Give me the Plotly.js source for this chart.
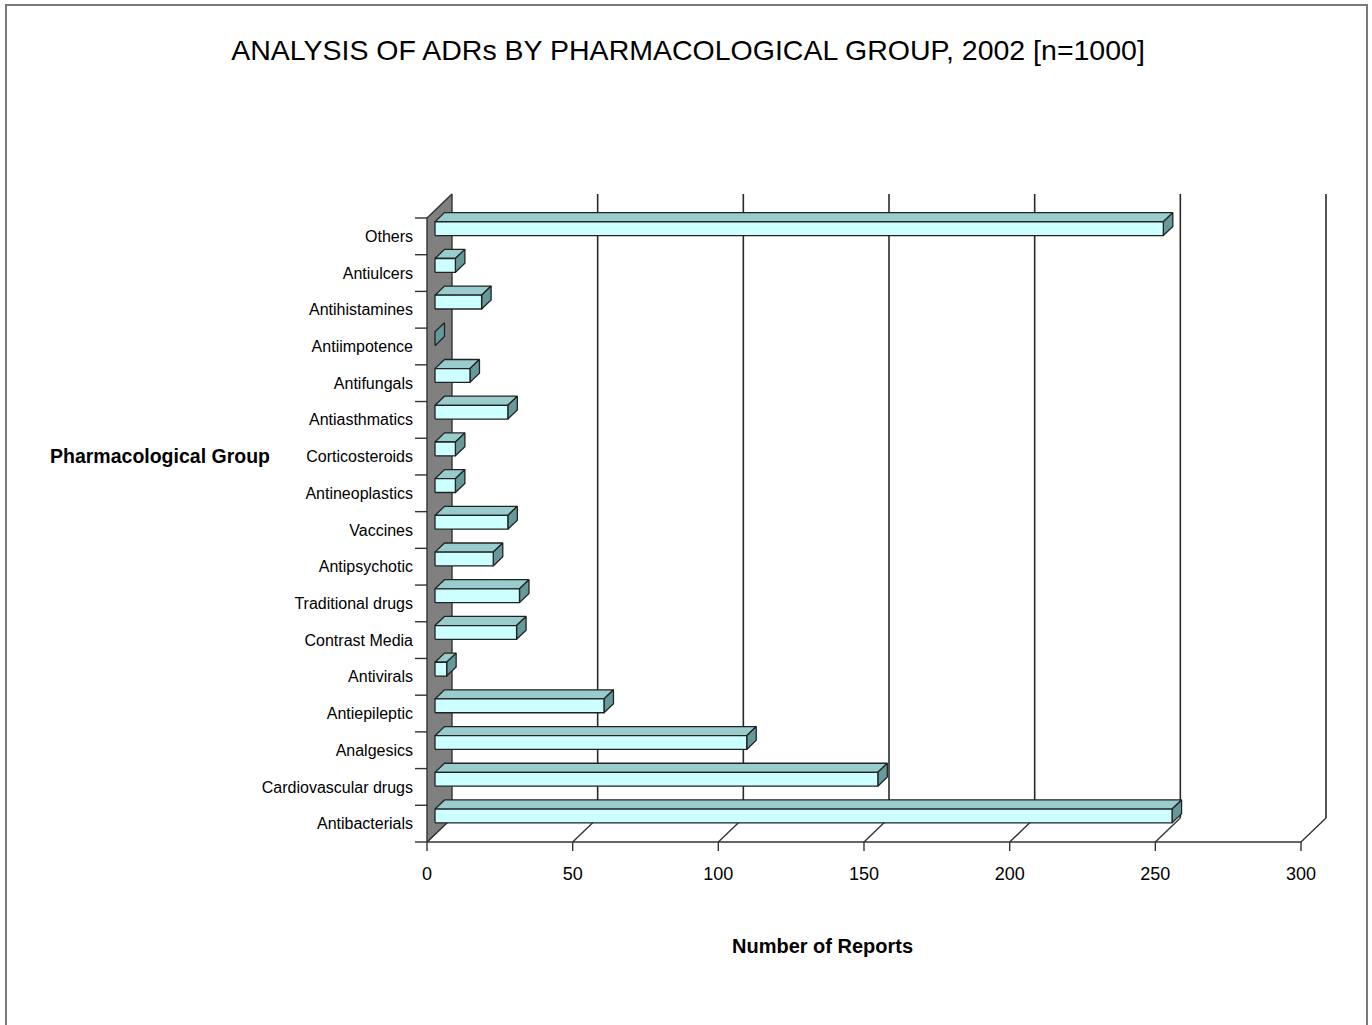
<!DOCTYPE html>
<html>
<head>
<meta charset="utf-8">
<script src="https://cdn.plot.ly/plotly-3.0.1.min.js"></script>
<style>html,body{margin:0;padding:0;background:#fff;}#chart{width:1372px;height:1025px;}</style>
</head>
<body>
<div id="chart"></div>
<script>
// ---- data ----
const categories = ['Antibacterials','Cardiovascular drugs','Analgesics','Antiepileptic','Antivirals',
  'Contrast Media','Traditional drugs','Antipsychotic','Vaccines','Antineoplastics','Corticosteroids',
  'Antiasthmatics','Antifungals','Antiimpotence','Antihistamines','Antiulcers','Others'];
const reports = [253,152,107,58,4,28,29,20,25,7,7,25,12,0,16,7,250];
const xTickValues = [0,50,100,150,200,250,300];
const xTickLabels = ['0','50','100','150','200','250','300'];
const chartTitle = 'ANALYSIS OF ADRs BY PHARMACOLOGICAL GROUP, 2002 [n=1000]';
const yTitle = 'Pharmacological Group';
const xTitle = 'Number of Reports';

// ---- geometry (pixels of the page) ----
const W = 1372, H = 1025;
const X0 = 427, XMAXPX = 1301, XMAX = 300;      // front plane x-axis
const YB = 842, YT = 218;                        // front plane category extent
const ppu = (XMAXPX - X0) / XMAX;                // px per unit
const nCat = categories.length;
const ppc = (YB - YT) / nCat;                    // px per category
const DOM = {left: 414, right: 1334, top: 190, bottom: 852};
const DX = 25 / ppu, DY = 24 / ppc;              // 3-D depth
const F0 = 0.32, F1 = 0.70, HH = 6.9 / ppc;       // bar depth placement & half height
const yLo = -0.5, yHi = nCat - 0.5;

function seg(list){ // list of polylines -> x,y arrays with null gaps
  const x=[], y=[];
  list.forEach(p=>{ p.forEach(q=>{x.push(q[0]); y.push(q[1]);}); x.push(null); y.push(null); });
  return {x, y};
}
function closed(p){ return p.concat([p[0]]); }

// back wall grid lines
const grid = seg(xTickValues.filter(v=>v>0).map(v=>[[v+DX, yLo+DY],[v+DX, yHi+DY]]));
// floor: front edge, diagonals, tick marks
const floorLines = [[[0,yLo],[XMAX,yLo]]];
xTickValues.forEach(v=>{
  floorLines.push([[v,yLo],[v+DX,yLo+DY]]);
  floorLines.push([[v,yLo],[v,yLo-9/ppc]]);
});
const floor = seg(floorLines);
// y ticks at category boundaries
const yt = [];
for (let i=0;i<=nCat;i++){ const b = yLo+i; yt.push([[-12/ppu,b],[0,b]]); }
const yTicks = seg(yt);
// side wall
const wall = seg([closed([[0,yLo],[0,yHi],[DX,yHi+DY],[DX,yLo+DY]])]);

// bar faces
const fronts=[], tops=[], sides=[];
reports.forEach((v,i)=>{
  const xa = F0*DX, xb = v + F0*DX;
  const yc = i + F0*DY;
  const y0 = yc-HH, y1 = yc+HH;
  const ddx = (F1-F0)*DX, ddy = (F1-F0)*DY;
  if (v>0) fronts.push(closed([[xa,y0],[xb,y0],[xb,y1],[xa,y1]]));
  if (v>0) tops.push(closed([[xa,y1],[xb,y1],[xb+ddx,y1+ddy],[xa+ddx,y1+ddy]]));
  sides.push(closed([[xb,y0],[xb,y1],[xb+ddx,y1+ddy],[xb+ddx,y0+ddy]]));
});
const fr = seg(fronts), tp = seg(tops), sd = seg(sides);

const base = {type:'scatter', mode:'lines', hoverinfo:'skip', showlegend:false};
const traces = [
  Object.assign({}, base, {x:grid.x, y:grid.y, line:{color:'#2a2a2a', width:1.6}}),
  Object.assign({}, base, {x:floor.x, y:floor.y, line:{color:'#333', width:1.4}}),
  Object.assign({}, base, {x:yTicks.x, y:yTicks.y, line:{color:'#333', width:1.4}}),
  Object.assign({}, base, {x:wall.x, y:wall.y, fill:'toself', fillcolor:'#808080', line:{color:'#333', width:1.4}}),
  Object.assign({}, base, {x:tp.x, y:tp.y, fill:'toself', fillcolor:'#99CCCC', line:{color:'#222', width:1.3}}),
  Object.assign({}, base, {x:sd.x, y:sd.y, fill:'toself', fillcolor:'#669999', line:{color:'#222', width:1.3}}),
  Object.assign({}, base, {x:fr.x, y:fr.y, fill:'toself', fillcolor:'#CCFFFF', line:{color:'#222', width:1.3},
     name:'Number of Reports'})
];

const layout = {
  width: W, height: H,
  margin: {l:0, r:0, t:0, b:0},
  paper_bgcolor: '#fff', plot_bgcolor: 'rgba(0,0,0,0)',
  font: {family: 'Arial, "Liberation Sans", sans-serif', color: '#000'},
  title: {text: chartTitle, x: 688/W, xanchor: 'center', y: 1-50/H, yanchor: 'middle',
          font: {family: 'Arial, "Liberation Sans", sans-serif', size: 28.5, color: '#000'}},
  xaxis: {
    domain: [DOM.left/W, DOM.right/W],
    range: [(DOM.left-X0)/ppu, (DOM.right-X0)/ppu],
    tickmode: 'array', tickvals: xTickValues, ticktext: xTickLabels,
    ticks: 'outside', ticklen: 5, tickcolor: 'rgba(0,0,0,0)',
    tickfont: {size: 18, color: '#000'},
    showgrid: false, zeroline: false, showline: false, fixedrange: true
  },
  yaxis: {
    domain: [1-DOM.bottom/H, 1-DOM.top/H],
    range: [yLo-(DOM.bottom-YB)/ppc, yLo+(YB-DOM.top)/ppc],
    tickmode: 'array', tickvals: categories.map((c,i)=>i), ticktext: categories,
    ticks: '', tickfont: {size: 16, color: '#000'},
    showgrid: false, zeroline: false, showline: false, fixedrange: true
  },
  shapes: [
    {type:'rect', xref:'paper', yref:'paper', x0:6/W, x1:1367/W, y0:-0.05, y1:1-5/H,
     line:{color:'#7a7a7a', width:2}, fillcolor:'rgba(0,0,0,0)', layer:'below'}
  ],
  annotations: [
    {text: yTitle, xref:'paper', yref:'paper', x:160/W, y:1-456/H, xanchor:'center', yanchor:'middle',
     showarrow:false, font:{size:19.5, weight:'bold', color:'#000'}},
    {text: xTitle, xref:'paper', yref:'paper', x:822/W, y:1-946/H, xanchor:'center', yanchor:'middle',
     showarrow:false, font:{size:20, weight:'bold', color:'#000'}}
  ]
};

Plotly.newPlot('chart', traces, layout, {displayModeBar:false, staticPlot:true});
</script>
</body>
</html>
